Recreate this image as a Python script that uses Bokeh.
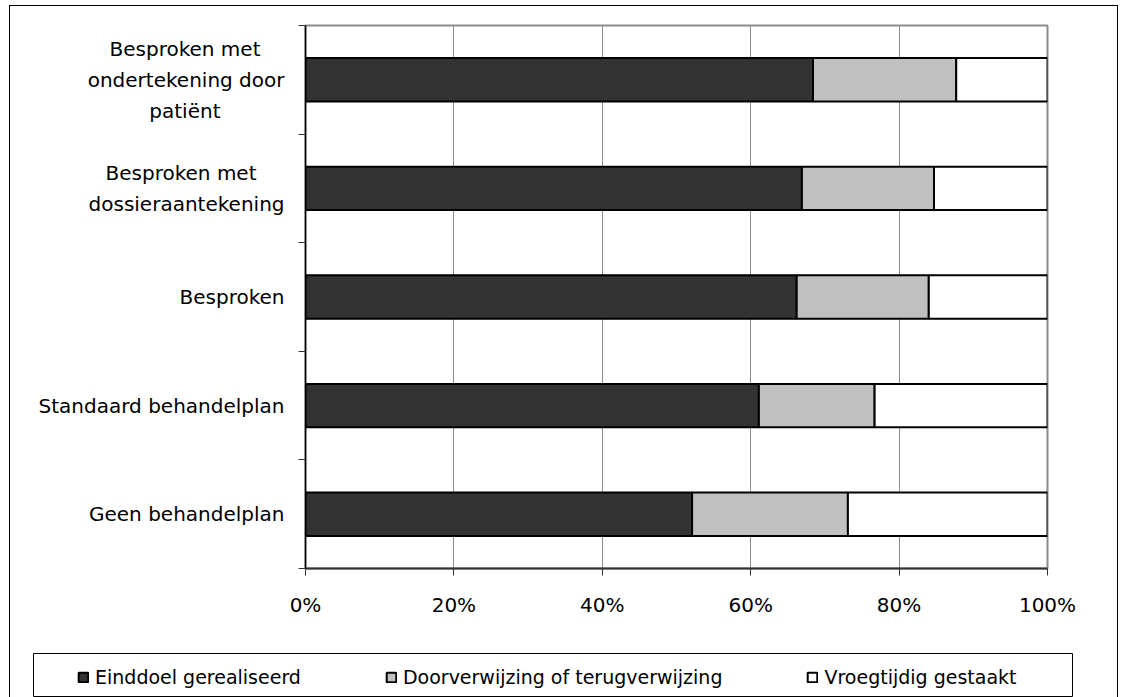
from bokeh.plotting import figure
from bokeh.models import (ColumnDataSource, FactorRange, Range1d, LinearAxis, FixedTicker,
                          CustomJSTickFormatter, PrintfTickFormatter, Legend, LegendItem)
from bokeh.embed import file_html
from bokeh.resources import INLINE

# ---- data ----
categories = ["Geen behandelplan", "Standaard behandelplan", "Besproken",
              "Besproken met dossieraantekening",
              "Besproken met ondertekening door patiënt"]
# multi-line tick labels; trailing en/thin spaces centre the shorter lines
EN, TH = "\u2002", "\u2009"
category_labels = ["Geen behandelplan", "Standaard behandelplan", "Besproken",
                   "Besproken met" + EN * 2 + TH * 2 + "\ndossieraantekening",
                   "Besproken met" + EN * 2 + TH + "\nondertekening door\npatiënt" + EN * 6 + TH]
einddoel = [52.1, 61.1, 66.2, 66.9, 68.4]
doorverwijzing = [21.0, 15.6, 17.8, 17.8, 19.3]
vroegtijdig = [26.9, 23.3, 16.0, 15.3, 12.3]
series_keys = ["einddoel", "doorverwijzing", "vroegtijdig"]
series_names = ["Einddoel gerealiseerd", "Doorverwijzing of terugverwijzing",
                "Vroegtijdig gestaakt"]
colors = ["#333333", "#c0c0c0", "#ffffff"]
x_ticks = [0, 20, 40, 60, 80, 100]

FONT = "DejaVu Sans"
OX, OY = 9, 5            # position of the outer chart border on the page
W = 1117 - OX + 1        # outer width

source = ColumnDataSource(dict(cat=categories, einddoel=einddoel,
                               doorverwijzing=doorverwijzing, vroegtijdig=vroegtijdig))

# ---------------- main chart ----------------
p = figure(width=W, height=640 - OY, output_backend="svg", toolbar_location=None,
           y_range=FactorRange(factors=categories), x_range=Range1d(0, 100),
           y_axis_type=None,
           min_border_left=305 - OX, min_border_right=W - (305 - OX) - 742,
           min_border_top=25 - OY, min_border_bottom=640 - 568)
p.styles = {"margin-left": f"{OX}px", "margin-top": f"{OY}px",
            "box-shadow": "inset 1px 1px 0 0 #000, inset -1px 0 0 0 #000"}

p.hbar_stack(series_keys, y="cat", height=0.4, source=source,
             fill_color=colors, line_color="black", line_width=2)

p.outline_line_color = "#8c8c8c"
p.outline_line_width = 2
p.background_fill_color = "white"
p.border_fill_color = None

xa = p.xaxis[0]
xa.ticker = FixedTicker(ticks=x_ticks)
xa.formatter = PrintfTickFormatter(format="%d%%")
xa.major_tick_out = 7
xa.major_tick_in = 0
xa.minor_tick_line_color = None
xa.axis_line_color = "#333333"
xa.axis_line_width = 2
xa.major_tick_line_color = "#333333"
xa.major_label_text_font = FONT
xa.major_label_text_font_size = "20px"
xa.major_label_text_color = "black"
xa.major_label_standoff = 17

p.xgrid.ticker = FixedTicker(ticks=x_ticks)
p.xgrid.grid_line_color = "#8c8c8c"
p.xgrid.grid_line_width = 1

centres = [i + 0.5 for i in range(len(categories))]
bounds = [i for i in range(len(categories) + 1)]
ya = LinearAxis(ticker=FixedTicker(ticks=centres, minor_ticks=bounds),
                formatter=CustomJSTickFormatter(args=dict(labels=category_labels),
                                                code="return labels[Math.floor(tick)];"))
ya.major_tick_in = 0
ya.major_tick_out = 0
ya.major_tick_line_color = None
ya.minor_tick_in = 0
ya.minor_tick_out = 7
ya.minor_tick_line_color = "#333333"
ya.axis_line_color = "black"
ya.axis_line_width = 1.5
ya.major_label_text_font = FONT
ya.major_label_text_font_size = "20px"
ya.major_label_text_color = "black"
ya.major_label_text_line_height = 1.3
ya.major_label_standoff = 14
p.add_layout(ya, "left")

# ---------------- legend strip ----------------
lg = figure(width=W, height=697 - 640, output_backend="svg", toolbar_location=None,
            y_range=FactorRange(factors=categories), x_range=Range1d(0, 100),
            x_axis_type=None, y_axis_type=None,
            min_border_left=33 - OX, min_border_right=W - (1072 - OX),
            min_border_top=653 - 640, min_border_bottom=0)
lg.styles = {"margin-left": f"{OX}px",
             "box-shadow": "inset 1px 0 0 0 #000, inset -1px 0 0 0 #000"}
lg.grid.visible = False
lg.outline_line_color = "black"
lg.outline_line_width = 1
lg.border_fill_color = None
rs = lg.hbar_stack(series_keys, y="cat", height=0.4, source=source,
                   fill_color=colors, line_color="black", line_width=2)
for r in rs:
    r.visible = False

legend = Legend(items=[LegendItem(label=n, renderers=[r]) for n, r in zip(series_names, rs)],
                orientation="horizontal", location=(44, 9),
                label_text_font=FONT, label_text_font_size="19px", label_text_color="black",
                glyph_width=12, glyph_height=12, label_standoff=6, spacing=84,
                padding=0, margin=0, border_line_alpha=0, background_fill_alpha=0,
                inactive_fill_alpha=0, click_policy="none")
lg.add_layout(legend, "center")

open("out.html", "w").write(file_html([p, lg], INLINE))
